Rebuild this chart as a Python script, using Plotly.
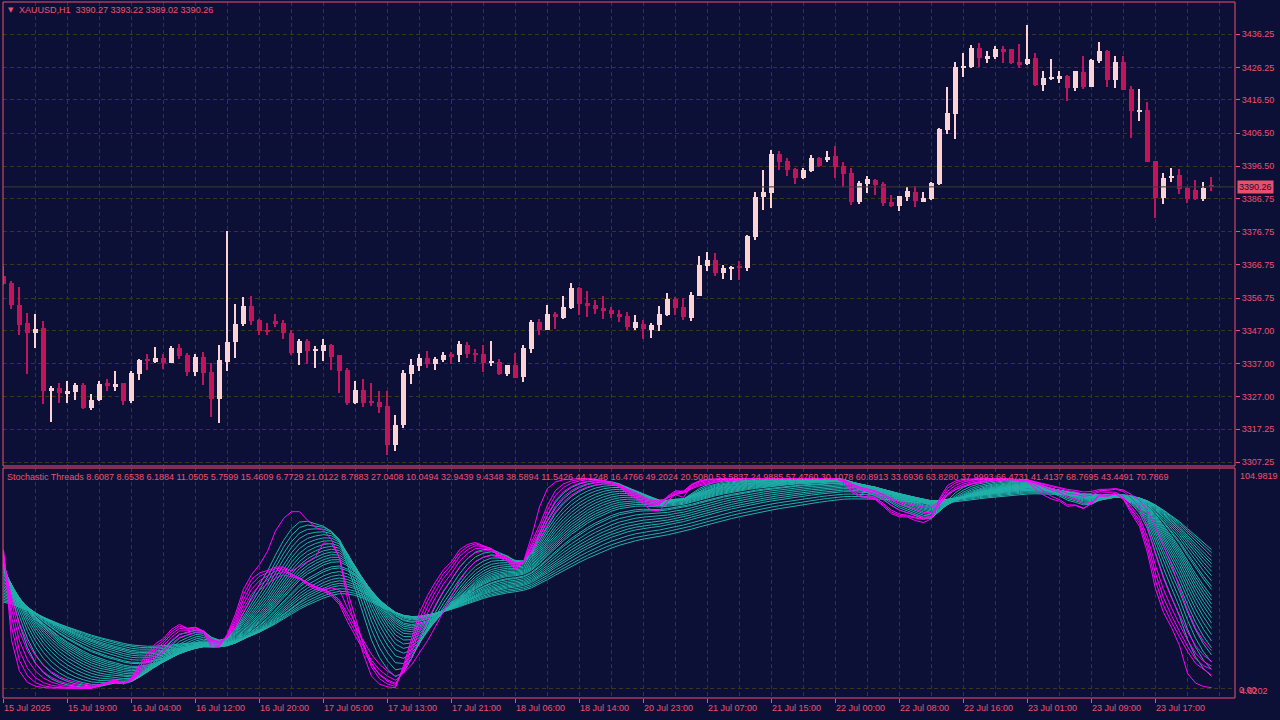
import numpy as np
import plotly.graph_objects as go

# ---------------- data ----------------
header_text = "XAUUSD,H1  3390.27 3393.22 3389.02 3390.26"
indicator_text = ("Stochastic Threads 8.6087 8.6538 6.1884 11.0505 5.7599 15.4609 6.7729 21.0122 "
                  "8.7883 27.0408 10.0494 32.9439 9.4348 38.5894 11.5426 44.1248 16.4766 49.2024 "
                  "20.5080 53.5837 24.9885 57.4760 30.1078 60.8913 33.6936 63.8280 37.9993 66.4731 "
                  "41.4137 68.7695 43.4491 70.7869")

time_label_bars = [0, 8, 16, 24, 32, 40, 48, 56, 64, 72, 80, 88, 96, 104, 112, 120, 128, 136, 144]
time_labels = ["15 Jul 2025", "15 Jul 19:00", "16 Jul 04:00", "16 Jul 12:00", "16 Jul 20:00",
               "17 Jul 05:00", "17 Jul 13:00", "17 Jul 21:00", "18 Jul 06:00", "18 Jul 14:00",
               "20 Jul 23:00", "21 Jul 07:00", "21 Jul 15:00", "22 Jul 00:00", "22 Jul 08:00",
               "22 Jul 16:00", "23 Jul 01:00", "23 Jul 09:00", "23 Jul 17:00"]

price_ticks = [3436.25, 3426.25, 3416.50, 3406.50, 3396.50, 3386.75, 3376.75, 3366.75,
               3356.75, 3347.00, 3337.00, 3327.00, 3317.25, 3307.25]
last_price = 3390.26
ind_max = 104.9819
ind_min = -4.6202

opens = [3363.4, 3361.3, 3354.7, 3349.1, 3346.3, 3347.8, 3328.6, 3329.5, 3327.7, 3328.3,
         3330.4, 3323.7, 3326.1, 3331.0, 3330.1, 3331.0, 3325.8, 3334.0, 3338.2, 3337.6,
         3338.8, 3337.3, 3341.8, 3339.7, 3334.6, 3339.1, 3334.6, 3326.4, 3337.6, 3343.6,
         3349.0, 3354.4, 3350.2, 3347.2, 3349.9, 3349.3, 3346.3, 3340.3, 3343.9, 3340.9,
         3340.9, 3342.7, 3339.7, 3335.2, 3325.2, 3328.9, 3325.5, 3325.5, 3324.3, 3312.6,
         3318.6, 3334.0, 3336.4, 3338.8, 3337.0, 3338.2, 3340.0, 3339.7, 3342.7, 3340.3,
         3340.0, 3337.3, 3337.6, 3334.0, 3336.7, 3333.1, 3341.5, 3349.6, 3347.2, 3352.0,
         3350.8, 3353.8, 3359.8, 3355.3, 3354.7, 3353.8, 3353.2, 3352.0, 3351.4, 3347.8,
         3349.0, 3347.2, 3348.7, 3351.7, 3356.5, 3354.1, 3350.8, 3357.4, 3366.5, 3368.3,
         3364.4, 3365.6, 3366.2, 3365.9, 3375.2, 3387.2, 3388.5, 3400.2, 3398.1, 3395.7,
         3393.0, 3395.1, 3399.0, 3398.4, 3399.6, 3396.6, 3394.5, 3385.7, 3391.2, 3392.4,
         3391.2, 3385.7, 3384.5, 3387.2, 3388.8, 3385.7, 3386.6, 3391.2, 3407.4, 3412.2,
         3426.1, 3426.4, 3432.1, 3429.1, 3429.4, 3431.8, 3431.8, 3427.9, 3427.3, 3429.1,
         3421.0, 3422.8, 3422.8, 3423.7, 3420.1, 3424.9, 3420.4, 3428.2, 3431.2, 3422.5,
         3427.9, 3419.8, 3413.1, 3413.4, 3398.1, 3386.9, 3393.0, 3393.9, 3390.0, 3389.4,
         3386.6, 3390.27]
highs = [3366.5, 3361.9, 3360.1, 3352.3, 3352.0, 3349.9, 3330.1, 3331.3, 3331.9, 3331.3,
         3331.0, 3327.7, 3331.9, 3332.5, 3334.9, 3331.3, 3334.9, 3338.5, 3340.0, 3342.1,
         3340.0, 3342.4, 3343.0, 3340.3, 3340.0, 3340.6, 3337.3, 3342.7, 3377.0, 3355.0,
         3357.1, 3357.4, 3350.5, 3349.3, 3352.0, 3350.2, 3347.2, 3344.5, 3344.5, 3342.4,
         3344.5, 3343.0, 3339.7, 3335.8, 3331.9, 3332.5, 3331.0, 3328.6, 3328.6, 3321.6,
         3335.2, 3338.5, 3340.0, 3340.9, 3339.1, 3340.6, 3340.6, 3343.9, 3343.6, 3341.5,
         3342.7, 3343.9, 3338.5, 3336.7, 3340.3, 3342.7, 3350.2, 3350.5, 3354.7, 3352.6,
         3357.4, 3361.3, 3360.1, 3358.9, 3356.2, 3357.4, 3354.2, 3353.2, 3352.6, 3351.7,
         3350.2, 3349.3, 3354.4, 3358.3, 3357.1, 3356.8, 3358.6, 3369.5, 3370.7, 3370.4,
         3366.8, 3366.5, 3368.0, 3375.8, 3388.8, 3395.4, 3401.4, 3401.1, 3399.0, 3396.0,
         3396.0, 3399.9, 3399.3, 3401.1, 3402.6, 3397.8, 3396.0, 3392.1, 3393.6, 3392.7,
         3391.8, 3387.8, 3387.5, 3390.3, 3390.6, 3388.8, 3391.8, 3408.0, 3420.4, 3427.9,
         3430.6, 3433.0, 3433.6, 3431.2, 3432.7, 3432.7, 3431.8, 3433.3, 3439.05, 3430.6,
         3425.2, 3428.8, 3425.2, 3424.0, 3425.2, 3429.7, 3428.8, 3433.9, 3431.5, 3429.7,
         3429.7, 3420.7, 3419.8, 3415.9, 3398.1, 3394.5, 3396.0, 3395.7, 3390.3, 3392.4,
         3391.8, 3393.22]
lows = [3360.7, 3353.6, 3345.7, 3334.0, 3341.8, 3324.9, 3319.5, 3325.2, 3325.2, 3326.1,
        3323.4, 3323.1, 3325.8, 3328.6, 3328.6, 3324.6, 3325.2, 3332.2, 3335.2, 3337.3,
        3335.5, 3337.2, 3338.5, 3333.4, 3333.4, 3330.4, 3321.0, 3319.2, 3334.9, 3338.8,
        3348.4, 3348.7, 3345.7, 3345.7, 3348.1, 3344.5, 3339.7, 3336.7, 3337.0, 3335.8,
        3337.9, 3335.2, 3328.0, 3324.6, 3324.9, 3324.0, 3324.3, 3322.2, 3309.3, 3310.8,
        3317.7, 3330.7, 3334.9, 3335.8, 3335.2, 3337.6, 3337.0, 3337.6, 3338.8, 3337.6,
        3334.6, 3336.4, 3333.7, 3333.4, 3332.8, 3331.6, 3340.3, 3345.7, 3347.2, 3347.5,
        3350.5, 3353.5, 3351.7, 3351.1, 3352.0, 3350.5, 3350.8, 3349.6, 3347.2, 3347.2,
        3344.5, 3344.8, 3346.9, 3351.4, 3351.7, 3350.2, 3349.9, 3357.4, 3365.0, 3363.5,
        3362.5, 3362.2, 3362.2, 3365.0, 3374.3, 3383.3, 3383.9, 3395.4, 3393.6, 3391.2,
        3392.7, 3394.8, 3396.3, 3397.8, 3393.0, 3390.3, 3384.8, 3385.1, 3388.5, 3387.8,
        3384.5, 3384.2, 3383.0, 3386.0, 3384.2, 3385.7, 3386.3, 3390.9, 3406.2, 3404.7,
        3423.4, 3426.1, 3426.4, 3427.6, 3428.8, 3427.6, 3427.3, 3426.1, 3427.0, 3420.7,
        3419.2, 3422.5, 3421.6, 3416.2, 3419.2, 3419.8, 3420.4, 3427.6, 3420.4, 3420.1,
        3419.5, 3405.0, 3410.1, 3397.8, 3380.9, 3385.1, 3391.8, 3388.2, 3385.4, 3386.3,
        3386.0, 3389.02]
closes = [3361.0, 3354.7, 3348.5, 3346.3, 3347.5, 3328.6, 3329.5, 3328.0, 3328.6, 3330.4,
          3323.7, 3326.1, 3330.7, 3330.1, 3330.7, 3325.8, 3334.3, 3338.2, 3337.9, 3338.8,
          3337.3, 3341.8, 3339.4, 3334.6, 3339.1, 3334.3, 3326.4, 3338.2, 3343.6, 3349.0,
          3354.4, 3349.9, 3346.9, 3346.6, 3349.0, 3346.3, 3340.3, 3343.9, 3340.9, 3341.5,
          3342.7, 3339.1, 3334.9, 3325.2, 3328.9, 3325.2, 3325.2, 3324.0, 3312.6, 3318.6,
          3334.3, 3336.7, 3338.8, 3337.0, 3338.5, 3339.7, 3339.1, 3343.0, 3340.0, 3339.7,
          3337.3, 3337.6, 3334.0, 3336.7, 3332.8, 3341.8, 3349.6, 3347.2, 3352.0, 3351.1,
          3354.1, 3359.8, 3355.0, 3354.4, 3353.5, 3352.9, 3352.0, 3351.1, 3348.1, 3349.6,
          3347.5, 3348.7, 3352.0, 3356.5, 3353.8, 3351.1, 3357.7, 3366.8, 3368.3, 3364.4,
          3365.9, 3366.2, 3365.9, 3375.5, 3387.2, 3388.8, 3400.2, 3397.8, 3395.4, 3393.0,
          3395.4, 3399.0, 3396.6, 3399.3, 3396.3, 3394.2, 3385.7, 3391.5, 3392.7, 3390.9,
          3385.4, 3384.5, 3387.5, 3389.1, 3386.0, 3386.9, 3391.5, 3407.7, 3412.5, 3426.4,
          3426.7, 3432.1, 3429.1, 3429.7, 3431.8, 3431.2, 3427.6, 3427.3, 3428.8, 3421.0,
          3423.1, 3423.1, 3423.7, 3420.1, 3425.2, 3420.4, 3428.5, 3431.2, 3422.5, 3427.9,
          3419.5, 3413.1, 3413.4, 3397.8, 3386.9, 3393.0, 3393.6, 3389.7, 3386.6, 3386.6,
          3390.0, 3390.26]

# Stochastic threads settings and the thread values on the first visible bar
price_smoothing = 5
fast_periods = [32, 36, 40, 44, 48, 52]
fast_alphas = [0.65, 0.55, 0.47, 0.40, 0.34, 0.29]
fast_start = [66, 65, 64, 63, 62, 61]
slow_spans = [4, 5, 6, 7, 8, 9, 10, 11, 12, 13, 14, 15, 16, 17, 18, 20, 21, 23, 25, 27,
              29, 31, 33, 36, 39, 42]
slow_start = [60, 59.2, 58.5, 57.6, 57, 56.1, 55.4, 54.6, 54, 53.1, 52.3, 51.6, 50.7,
              50.1, 49.2, 48.4, 47.7, 46.9, 46.2, 45.4, 44.7, 43.9, 43.2, 42.4, 41.7, 41]

# ---------------- styling ----------------
BG = "#0d1036"
AX = "#f0506e"
GRID = "#3e3520"
BULL = "#fcd2d2"
BEAR = "#c2145a"
MAG = "#ff00ff"
TEAL = "#20b2aa"
FONT = "Liberation Sans"

n = len(closes)
xb = np.arange(n)
O = np.array(opens); H = np.array(highs); L = np.array(lows); C = np.array(closes)
bull = C >= O

# ---------------- indicator ----------------
a = 2.0 / (price_smoothing + 1)
S = np.zeros(n)
S[0] = C[0]
for t in range(1, n):
    S[t] = S[t - 1] + a * (C[t] - S[t - 1])

def stoch(series, p):
    out = np.full(len(series), np.nan)
    for t in range(len(series)):
        w = series[max(0, t - p + 1):t + 1]
        hi, lo = w.max(), w.min()
        if hi > lo:
            out[t] = 100.0 * (series[t] - lo) / (hi - lo)
    return out

def smooth(k, al, s0):
    m = np.zeros(len(k))
    m[0] = s0
    for t in range(1, len(k)):
        kv = k[t] if not np.isnan(k[t]) else m[t - 1]
        m[t] = m[t - 1] + al * (kv - m[t - 1])
    return m

fast_lines = [smooth(stoch(S, p), al, s0)
              for p, al, s0 in zip(fast_periods, fast_alphas, fast_start)]
base = fast_lines[0]
slow_lines = [smooth(base, 2.0 / (sp + 1), s0) for sp, s0 in zip(slow_spans, slow_start)]

# ---------------- figure ----------------
fig = go.Figure()

for mask, col in ((bull, BULL), (~bull, BEAR)):
    fig.add_trace(go.Bar(x=xb[mask], y=(H - L)[mask], base=L[mask], width=0.13,
                         marker=dict(color=col, line=dict(width=0)), hoverinfo="skip",
                         xaxis="x", yaxis="y"))
for mask, col in ((bull, BULL), (~bull, BEAR)):
    bot = np.minimum(O, C)[mask]
    hgt = np.maximum(np.abs(C - O)[mask], 0.35)
    fig.add_trace(go.Bar(x=xb[mask], y=hgt, base=bot, width=0.62,
                         marker=dict(color=col, line=dict(width=0)), hoverinfo="skip",
                         xaxis="x", yaxis="y"))

for tl in slow_lines:
    fig.add_trace(go.Scatter(x=xb, y=tl, mode="lines", line=dict(color=TEAL, width=1),
                             hoverinfo="skip", xaxis="x2", yaxis="y2"))
for m in fast_lines:
    fig.add_trace(go.Scatter(x=xb, y=m, mode="lines", line=dict(color=MAG, width=1),
                             hoverinfo="skip", xaxis="x2", yaxis="y2"))

W, Hh = 1280, 720
ml, mr, mt, mb = 3, 45, 2, 22
pw, ph = W - ml - mr, Hh - mt - mb

def px_x(p):
    return (p - ml) / pw

def px_y(p):
    return (Hh - mb - p) / ph

top_dom = [px_y(466), 1]
bot_dom = [0, px_y(468)]
xr = [-0.0625, (W - mr - 3.5) / 8.0]
yr = [3306.13, 3445.99]

xcommon = dict(range=xr, showgrid=True, gridcolor=GRID, griddash="4px,3px", gridwidth=1,
               zeroline=False, showline=False, tickmode="array", tickvals=time_label_bars,
               minor=dict(tickmode="linear", tick0=0, dtick=4, showgrid=True, gridcolor=GRID,
                          griddash="4px,3px", gridwidth=1, ticks=""))

fig.update_layout(
    width=W, height=Hh, margin=dict(l=ml, r=mr, t=mt, b=mb, autoexpand=False),
    paper_bgcolor=BG, plot_bgcolor=BG, showlegend=False, barmode="overlay", bargap=0,
    font=dict(family=FONT, size=9, color=AX),
    xaxis=dict(domain=[0, 1], anchor="y", showticklabels=False, ticks="", **xcommon),
    yaxis=dict(domain=top_dom, range=yr, side="right", anchor="x", tickmode="array",
               tickvals=price_ticks, ticktext=[f"{v:.2f}" for v in price_ticks],
               ticks="outside", ticklen=4, tickcolor=AX, tickwidth=1,
               tickfont=dict(family=FONT, size=9, color=AX),
               showgrid=True, gridcolor=GRID, griddash="4px,3px", zeroline=False, showline=False),
    xaxis2=dict(domain=[0, 1], anchor="y2", showticklabels=False, ticks="outside", ticklen=4,
                tickcolor=AX, tickwidth=1, **xcommon),
    yaxis2=dict(domain=bot_dom, range=[ind_min, ind_max], side="right", anchor="x2",
                tickmode="array", tickvals=[0], showticklabels=False, ticks="",
                showgrid=True, gridcolor=GRID, griddash="4px,3px", zeroline=False, showline=False),
)

shapes = [
    dict(type="line", xref="paper", yref="y", x0=0, x1=1, y0=last_price, y1=last_price,
         line=dict(color="#3d3b30", width=1)),
    dict(type="rect", xref="paper", yref="paper", x0=0, x1=1, y0=top_dom[0], y1=1,
         line=dict(color=AX, width=1)),
    dict(type="rect", xref="paper", yref="paper", x0=0, x1=1, y0=0, y1=bot_dom[1],
         line=dict(color=AX, width=1)),
]
fig.update_layout(shapes=shapes)

ann = []
ann.append(dict(text="▼", x=px_x(6), y=px_y(10), xref="paper", yref="paper",
                xanchor="left", yanchor="middle", showarrow=False,
                font=dict(family="DejaVu Sans", size=7, color=AX)))
ann.append(dict(text=header_text.replace("  ", "&nbsp; "), x=px_x(17), y=px_y(10), xref="paper",
                yref="paper", xanchor="left", yanchor="middle", showarrow=False,
                font=dict(family=FONT, size=9, color=AX)))
ann.append(dict(text=indicator_text, x=px_x(5), y=px_y(477), xref="paper", yref="paper",
                xanchor="left", yanchor="middle", showarrow=False,
                font=dict(family=FONT, size=9, color=AX)))
ann.append(dict(text=f"{last_price:.2f}", x=px_x(1237), y=last_price, xref="paper", yref="y",
                xanchor="left", yanchor="middle", showarrow=False, bgcolor="#e8506e",
                borderpad=1, font=dict(family=FONT, size=9, color="#1a0f2a")))
ann.append(dict(text=f"{ind_max:.4f}", x=px_x(1238), y=px_y(476), xref="paper", yref="paper",
                xanchor="left", yanchor="middle", showarrow=False,
                font=dict(family=FONT, size=9, color=AX)))
ann.append(dict(text=f"{ind_min:.4f}".lstrip("-"), x=px_x(1238), y=px_y(691), xref="paper",
                yref="paper", xanchor="left", yanchor="middle", showarrow=False,
                font=dict(family=FONT, size=9, color=AX)))
ann.append(dict(text="0.00", x=px_x(1237), y=px_y(690), xref="paper", yref="paper",
                xanchor="left", yanchor="middle", showarrow=False,
                font=dict(family=FONT, size=9, color=AX)))
for b, lab in zip(time_label_bars, time_labels):
    ann.append(dict(text=lab, x=b, y=px_y(708), xref="x2", yref="paper", xanchor="left",
                    yanchor="middle", xshift=-2, showarrow=False,
                    font=dict(family=FONT, size=9, color=AX)))
fig.update_layout(annotations=ann)

fig.write_html("out.html", config={"displayModeBar": False},
               post_script=("document.body.style.margin='0px';"
                            "document.body.style.overflow='hidden';"
                            "document.body.style.background='" + BG + "';"))
